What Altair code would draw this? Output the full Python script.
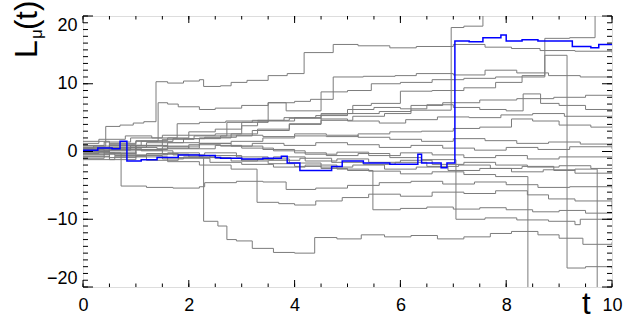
import altair as alt
import pandas as pd

# Sample paths of the process L_mu(t): knots (t, value), drawn as step functions
blue_path = [(0, 0.2), (0.28, 0.5), (0.55, 0.4), (0.7, 1.5), (0.83, -1.4), (1.1, -1.2), (1.4, -0.9),
             (1.8, -0.5), (2.2, -0.6), (2.5, -0.9), (2.6, -1.0), (3.0, -1.1), (3.4, -1.0), (3.75, -0.7),
             (3.86, -1.7), (4.1, -2.8), (4.7, -2.2), (4.9, -1.4), (5.3, -1.7), (5.8, -1.9), (6.33, -0.4),
             (6.4, -1.7), (6.77, -2.4), (6.88, -1.7), (7.03, 16.3), (7.3, 16.2), (7.56, 16.8), (7.9, 17.2),
             (8.0, 16.3), (8.3, 16.5), (8.6, 16.3), (9.25, 15.5), (9.6, 15.3), (9.75, 15.8), (10, 15.8)]

path_01 = [(0, 0.5), (0.2, 0.8), (0.43, 3.7), (0.7, 3.9), (0.95, 4.2), (1.15, 4.4), (1.38, 10.3), (1.6, 10.1),
           (1.9, 10.4), (2.2, 10.6), (2.28, 9.6), (2.6, 9.7), (2.8, 10.2), (3.1, 10.5), (3.5, 11.2), (3.86, 11.5),
           (4.18, 14.6), (4.73, 15.8), (5.2, 15.6), (5.8, 15.3), (6.3, 15.5), (7.0, 15.8), (7.6, 15.4), (8.1, 15.2),
           (8.64, 14.9), (9.3, 14.8), (10, 14.6)]
path_02 = [(0, -0.3), (0.3, 0.4), (0.9, 0.9), (1.5, 1.8), (2.1, 2.3), (2.72, 4.3), (3.2, 4.6), (3.8, 5.0),
           (4.4, 5.3), (5.0, 5.6), (5.6, 5.9), (6.2, 6.1), (6.96, 18.3), (7.2, 18.5), (7.56, 25), (10, 25)]
path_03 = [(0, 0.2), (0.5, 1.0), (1.0, 1.5), (1.42, 7.2), (1.6, 7.0), (1.8, 6.6), (2.2, 6.2), (2.5, 6.4),
           (3.0, 6.8), (3.5, 7.2), (4.0, 7.4), (4.3, 7.7), (4.73, 11.0), (5.3, 11.1), (5.9, 11.2), (6.3, 11.5),
           (7.0, 11.3), (7.6, 12.0), (8.2, 11.6), (8.8, 11.2), (9.4, 11.0), (10, 10.9)]
path_04 = [(0, 0.4), (0.5, 1.2), (1.0, 1.6), (1.6, 2.0), (2.0, 2.4), (2.5, 2.6), (3.0, 3.8), (3.3, 4.4),
           (3.5, 7.2), (3.84, 6.0), (4.5, 8.8), (5.0, 9.0), (5.45, 10.0), (6.0, 10.2), (6.6, 10.6), (7.2, 10.8),
           (7.8, 11.0), (8.3, 11.2), (8.73, 14.2), (9.15, -17.2), (9.5, -17.0), (10, -17.3)]
path_05 = [(0, -0.2), (0.5, 0.6), (1.2, 1.3), (1.9, 1.9), (2.6, 2.3), (3.2, 3.1), (3.9, 4.0), (4.5, 5.6),
           (5.1, 6.8), (5.45, 7.1), (6.0, 8.9), (6.6, 9.0), (7.2, 9.4), (7.8, 10.2), (8.3, 11.0), (8.73, 16.7),
           (9.2, 16.8), (9.68, 24), (10, 24)]
path_06 = [(0, 0.9), (0.4, 1.4), (0.9, 2.0), (1.5, 2.4), (2.0, 2.9), (2.5, 3.3), (3.0, 4.3), (3.5, 4.5),
           (4.0, 5.0), (4.5, 5.4), (5.0, 6.2), (5.5, 6.5), (6.0, 6.3), (6.5, 6.9), (7.0, 6.5), (7.5, 6.2),
           (8.0, 6.0), (8.32, 8.5), (8.65, 7.1), (9.0, 6.8), (9.5, 6.2), (10, 6.0)]
path_07 = [(0, -0.8), (0.5, 0.2), (1.0, 0.8), (1.6, 1.3), (2.2, 2.0), (2.8, 2.6), (3.3, 3.3), (3.9, 4.1),
           (4.5, 4.6), (5.1, 5.2), (5.7, 5.6), (6.2, 6.8), (6.8, 7.2), (7.5, 7.6), (8.2, 7.8), (8.9, 8.0),
           (9.5, 8.3), (10, 8.1)]
path_08 = [(0, 1.2), (0.3, 1.8), (0.8, 2.3), (1.3, 2.0), (1.78, 4.1), (2.2, 4.3), (2.7, 4.5), (3.3, 4.6),
           (3.9, 4.9), (4.5, 4.8), (5.0, 4.5), (5.6, 4.2), (6.1, 4.7), (6.7, 5.1), (7.3, 5.0), (7.9, 5.4),
           (8.5, 5.6), (9.1, 5.2), (10, 5.3)]
path_09 = [(0, -1.0), (0.4, -0.4), (1.0, 0.3), (1.6, 0.8), (2.2, 1.2), (2.8, 1.5), (3.4, 2.0), (4.0, 2.3),
           (4.6, 2.2), (5.2, 2.6), (5.8, 2.9), (6.4, 3.0), (7.0, 3.4), (7.5, 3.6), (8.1, 4.8), (8.5, 4.5),
           (9.0, 3.9), (9.6, 3.6), (10, 3.7)]
path_10 = [(0, 0.6), (0.5, 0.9), (1.1, 1.5), (1.7, 1.9), (2.3, 2.1), (2.9, 2.4), (3.4, 2.2), (4.0, 2.6),
           (4.6, 2.4), (5.2, 2.1), (5.8, 1.8), (6.4, 1.5), (7.0, 1.9), (7.6, 1.6), (8.2, 1.2), (8.8, 1.4),
           (9.4, 1.1), (10, 1.3)]
path_11 = [(0, -0.5), (0.4, 0.2), (0.9, 0.6), (1.4, 0.4), (2.0, 1.0), (2.6, 0.8), (3.2, 1.2), (3.8, 0.9),
           (4.4, 1.3), (5.0, 1.0), (5.6, 0.6), (6.2, 0.9), (6.8, 0.5), (7.4, 0.2), (8.0, 0.6), (8.6, 0.3),
           (9.2, 0.7), (10, 0.4)]
path_12 = [(0, 0.1), (0.5, -0.3), (1.0, 0.2), (1.5, 0.7), (2.0, 0.4), (2.5, 0.9), (3.0, 0.5), (3.6, 0.1),
           (4.2, -0.4), (4.8, -0.1), (5.4, -0.6), (6.0, -0.2), (6.6, -0.5), (7.2, -0.9), (7.8, -0.6),
           (8.4, -1.1), (9.0, -0.8), (10, -0.8)]
path_13 = [(0, -0.2), (0.6, -0.6), (1.2, -0.3), (1.8, -0.9), (2.4, -0.6), (3.0, -1.2), (3.6, -0.8),
           (4.2, -1.4), (4.8, -1.1), (5.4, -1.6), (6.0, -1.3), (6.6, -1.9), (7.2, -1.6), (7.8, -2.0),
           (8.4, -2.3), (9.0, -2.1), (9.6, -2.5), (10, -2.4)]
path_14 = [(0, 0.3), (0.4, -0.2), (0.72, -5.1), (1.2, -5.3), (1.7, -5.4), (2.2, -5.2), (2.3, -4.6),
           (2.9, -4.4), (3.4, -4.5), (3.84, -5.6), (4.4, -5.4), (5.0, -5.0), (5.6, -4.6), (6.2, -4.4),
           (6.8, -4.8), (7.4, -4.5), (8.0, -4.9), (8.6, -5.3), (9.2, -5.2), (10, -5.5)]
path_15 = [(0, -0.7), (0.5, -1.2), (1.0, -0.8), (1.6, -1.5), (2.2, -2.0), (2.8, -2.6), (3.29, -7.5),
           (3.7, -7.7), (4.0, -7.9), (4.4, -7.3), (4.9, -6.8), (5.4, -6.3), (6.0, -6.6), (6.6, -6.0),
           (7.2, -6.2), (7.8, -5.8), (8.4, -6.4), (8.8, -7.0), (9.3, -7.3), (10, -8.6)]
path_16 = [(0, 1.5), (0.5, 0.8), (1.0, 0.3), (1.5, -0.4), (2.0, -0.8), (2.5, -1.0), (3.0, -1.4), (3.5, -1.8),
           (4.0, -2.2), (4.5, -2.5), (5.0, -2.8), (5.48, -8.6), (6.0, -8.4), (6.5, -8.2), (7.0, -8.5),
           (7.5, -8.3), (8.0, -8.6), (8.5, -8.9), (9.0, -8.7), (9.5, -9.1), (10, -9.0)]
path_17 = [(0, 0.8), (0.5, 0.3), (1.0, 0.9), (1.6, 0.5), (2.2, 1.2), (2.8, 0.8), (3.4, 0.3), (4.0, -0.2),
           (4.6, -0.6), (5.2, -0.3), (5.8, -0.9), (6.4, -1.2), (7.05, -10.0), (7.6, -9.8), (8.2, -10.1),
           (8.8, -10.3), (9.3, -10.8), (9.4, -10.0), (10, -9.8)]
path_18 = [(0, -0.4), (0.5, -0.9), (1.0, -0.6), (1.5, -1.1), (1.9, -0.8), (2.28, -10.3), (2.55, -11.0),
           (2.72, -13.0), (2.9, -13.2), (3.2, -14.3), (3.6, -14.9), (4.0, -15.0), (4.38, -12.7), (4.8, -12.9),
           (5.26, -12.3), (5.7, -12.6), (6.2, -12.4), (6.7, -12.9), (7.2, -12.6), (7.7, -12.1), (8.1, -11.8),
           (8.6, -12.3), (9.0, -12.8), (9.45, -13.7), (10, -13.4)]
path_19 = [(0, -1.2), (0.6, -0.7), (1.2, -1.3), (1.8, -1.0), (2.4, -1.6), (3.0, -1.9), (3.6, -2.3),
           (4.2, -2.0), (4.8, -2.6), (5.4, -2.9), (6.0, -3.3), (6.6, -3.0), (7.2, -3.4), (7.8, -3.7),
           (8.41, -26), (10, -26)]
path_20 = [(0, 0.0), (0.5, 0.5), (1.1, 0.1), (1.7, -0.5), (2.3, -0.2), (2.9, -0.8), (3.5, -1.3), (4.1, -1.0),
           (4.7, -1.6), (5.3, -1.9), (5.9, -1.6), (6.5, -2.2), (7.1, -2.0), (7.7, -2.5), (8.3, -2.2),
           (8.9, -2.8), (9.3, -2.6), (9.72, -26), (10, -26)]
path_21 = [(0, 0.4), (0.5, -0.1), (1.0, -0.5), (1.6, -0.2), (2.2, -0.9), (2.8, -1.4), (3.3, -1.1),
           (3.9, -1.7), (4.5, -2.3), (5.1, -2.0), (5.7, -2.6), (6.3, -2.3), (6.9, -2.8), (7.5, -2.5),
           (8.1, -3.0), (8.7, -2.7), (9.3, -3.2), (10, -3.1)]

grey_paths = [path_01, path_02, path_03, path_04, path_05, path_06, path_07, path_08, path_09, path_10,
              path_11, path_12, path_13, path_14, path_15, path_16, path_17, path_18, path_19, path_20, path_21]

x_major = [0, 2, 4, 6, 8, 10]
x_minor = [v / 2 for v in range(0, 21)]
y_major = [-20, -10, 0, 10, 20]
y_minor = list(range(-20, 21))

W, H = 529, 271
FONT = "Liberation Sans"

rows = []
for i, p in enumerate(grey_paths):
    for t, v in p:
        rows.append({"path": f"g{i:02d}", "t": t, "L": v})
grey_df = pd.DataFrame(rows)
blue_df = pd.DataFrame([{"path": "b", "t": t, "L": v} for t, v in blue_path])

xs = alt.Scale(domain=[0, 10], nice=False, zero=False)
ys = alt.Scale(domain=[-20, 20], nice=False, zero=False)

# one shared axis definition, repeated in every layer so the merged axes agree
x_axis = alt.Axis(values=x_major, ticks=False, domain=False, grid=False, labelFont=FONT,
                  labelFontSize=18, labelColor="black", labelPadding=9, labelFlush=False,
                  labelOverlap=False, title="")
y_axis = alt.Axis(values=y_major, ticks=False, domain=False, grid=False, labelFont=FONT,
                  labelFontSize=18, labelColor="black", labelPadding=6, labelFlush=True, title="")


def X(field):
    return alt.X(field, scale=xs, axis=x_axis)


def Y(field):
    return alt.Y(field, scale=ys, axis=y_axis)


grey = alt.Chart(grey_df).mark_line(interpolate="step-after", color="#7c7c7c", strokeWidth=1,
                                    clip=True).encode(
    x=X("t:Q"), y=Y("L:Q"), detail="path:N", order="t:Q",
)
blue = alt.Chart(blue_df).mark_line(interpolate="step-after", color="#0000ff", strokeWidth=1.5,
                                    clip=True).encode(
    x=X("t:Q"), y=Y("L:Q"), order="t:Q",
)


def x_ticks(vals, length):
    d = pd.DataFrame({"t": vals})
    bottom = alt.Chart(d).mark_rule(color="black", strokeWidth=1).encode(
        x=X("t:Q"), y=alt.value(H), y2=alt.value(H - length))
    top = alt.Chart(d).mark_rule(color="black", strokeWidth=1).encode(
        x=X("t:Q"), y=alt.value(0), y2=alt.value(length))
    return [bottom, top]


def y_ticks(vals, length):
    d = pd.DataFrame({"L": vals})
    left = alt.Chart(d).mark_rule(color="black", strokeWidth=1).encode(
        y=Y("L:Q"), x=alt.value(0), x2=alt.value(length))
    right = alt.Chart(d).mark_rule(color="black", strokeWidth=1).encode(
        y=Y("L:Q"), x=alt.value(W), x2=alt.value(W - length))
    return [left, right]


ticks = x_ticks(x_major, 7) + x_ticks(x_minor, 3.5) + y_ticks(y_major, 10) + y_ticks(y_minor, 5)


def label(text, x, y, size, angle=0):
    return alt.Chart(pd.DataFrame({"s": [text]})).mark_text(
        font=FONT, fontSize=size, color="black", align="left", baseline="alphabetic", angle=angle
    ).encode(text="s:N", x=alt.value(x), y=alt.value(y))


titles = [
    label("L", -46, 42, 32, 270),
    label("μ", -41, 23, 17, 270),
    label("(t)", -46.5, 14, 31, 270),
    label("t", 499, 298, 31),
]

chart = alt.layer(grey, blue, *ticks, *titles).properties(
    width=W, height=H,
    padding={"left": 83, "top": 16, "right": 19, "bottom": 33},
    autosize=alt.AutoSizeParams(type="none"),
).configure_view(stroke="black", strokeWidth=1.2).configure(background="white")

chart.save("out.html", embed_options={"renderer": "svg", "actions": False})
